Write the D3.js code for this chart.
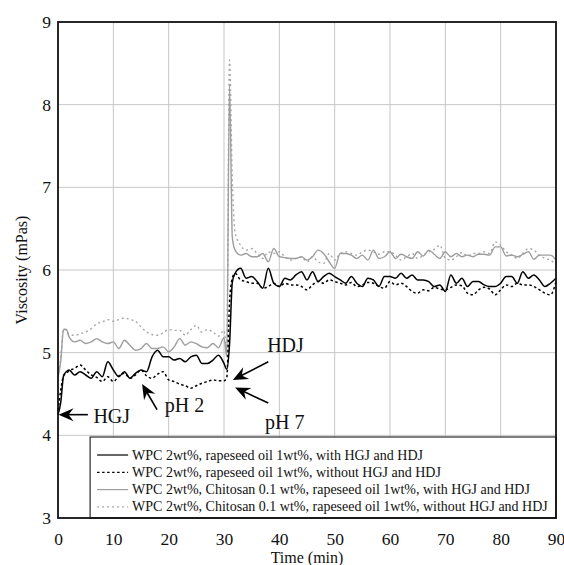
<!DOCTYPE html>
<html>
<head>
<meta charset="utf-8">
<script src="https://cdn.jsdelivr.net/npm/d3@7/dist/d3.min.js"></script>
<style>
  body { margin: 0; background: #fff; }
  svg text { font-family: "Liberation Serif", "Times New Roman", serif; fill: #111; }
</style>
</head>
<body>
<div id="chart"></div>
<script>
"use strict";

// time axis (min)
const times = [0, 0.5, 1, 1.5, 2, 3, 4, 5, 6, 7, 8, 9, 10, 11, 12, 13, 14, 15, 16, 17, 18, 19, 20,
  21, 22, 23, 24, 25, 26, 27, 28, 29, 30, 30.5, 31, 31.5, 32, 33, 34, 35, 36, 37, 38, 39, 40,
  41, 42, 43, 44, 45, 46, 47, 48, 49, 50, 51, 52, 53, 54, 55, 56, 57, 58, 59, 60,
  61, 62, 63, 64, 65, 66, 67, 68, 69, 70, 71, 72, 73, 74, 75, 76, 77, 78, 79, 80,
  81, 82, 83, 84, 85, 86, 87, 88, 89, 90];

// WPC, rapeseed oil, with HGJ and HDJ
const wpcWith = [4.25, 4.40, 4.72, 4.77, 4.79, 4.73, 4.77, 4.73, 4.69, 4.77, 4.71, 4.89, 4.79, 4.71, 4.77, 4.69, 4.75, 4.79, 4.77, 4.95, 5.03, 4.95, 4.95,
  4.91, 4.93, 4.89, 4.95, 4.97, 4.87, 4.87, 4.91, 4.97, 4.87, 4.80, 5.10, 5.85, 5.96, 6.02, 5.90, 5.92, 5.86, 5.78, 6.02, 5.84, 5.80,
  5.90, 5.88, 5.94, 5.98, 5.88, 5.98, 5.86, 5.92, 5.96, 5.92, 5.88, 5.84, 5.92, 5.84, 5.80, 5.90, 5.88, 5.80, 5.92, 5.92,
  5.90, 5.96, 5.90, 5.94, 5.88, 5.88, 5.86, 5.80, 5.82, 5.74, 5.94, 5.84, 5.90, 5.80, 5.86, 5.86, 5.82, 5.80, 5.80, 5.84,
  5.92, 5.92, 5.84, 5.98, 5.90, 5.94, 5.88, 5.80, 5.84, 5.90];

// WPC, rapeseed oil, without HGJ and HDJ
const wpcWithout = [4.30, 4.55, 4.72, 4.75, 4.78, 4.81, 4.85, 4.79, 4.73, 4.70, 4.65, 4.71, 4.65, 4.72, 4.75, 4.69, 4.73, 4.79, 4.72, 4.69, 4.74, 4.77, 4.67,
  4.65, 4.62, 4.60, 4.57, 4.60, 4.63, 4.65, 4.67, 4.66, 4.66, 4.70, 5.60, 5.90, 5.96, 5.88, 5.86, 5.84, 5.84, 5.78, 5.80, 5.84, 5.80,
  5.84, 5.82, 5.82, 5.80, 5.76, 5.82, 5.86, 5.84, 5.88, 5.86, 5.84, 5.82, 5.85, 5.80, 5.82, 5.85, 5.84, 5.80, 5.78, 5.86,
  5.82, 5.84, 5.80, 5.74, 5.72, 5.76, 5.75, 5.79, 5.77, 5.76, 5.79, 5.82, 5.81, 5.72, 5.70, 5.76, 5.79, 5.77, 5.70, 5.76,
  5.82, 5.80, 5.84, 5.82, 5.82, 5.80, 5.76, 5.72, 5.70, 5.86];

// WPC, Chitosan, rapeseed oil, with HGJ and HDJ
const chiWith = [4.70, 4.90, 5.28, 5.28, 5.19, 5.13, 5.15, 5.11, 5.13, 5.17, 5.13, 5.11, 5.13, 5.05, 5.15, 5.09, 5.03, 5.05, 5.11, 5.05, 5.05, 5.07, 5.01,
  5.07, 5.17, 5.09, 5.13, 5.11, 5.07, 5.06, 5.11, 5.06, 5.18, 4.95, 8.24, 6.40, 6.24, 6.18, 6.20, 6.16, 6.16, 6.20, 6.10, 6.26, 6.16,
  6.15, 6.14, 6.14, 6.16, 6.12, 6.16, 6.24, 6.20, 6.10, 6.02, 6.20, 6.20, 6.18, 6.14, 6.18, 6.12, 6.24, 6.14, 6.16, 6.22,
  6.14, 6.19, 6.16, 6.14, 6.22, 6.17, 6.24, 6.19, 6.14, 6.22, 6.16, 6.20, 6.16, 6.18, 6.16, 6.19, 6.19, 6.18, 6.28, 6.28,
  6.17, 6.18, 6.16, 6.19, 6.22, 6.13, 6.18, 6.18, 6.18, 6.12];

// WPC, Chitosan, rapeseed oil, without HGJ and HDJ
const chiWithout = [4.70, 4.95, 5.29, 5.27, 5.22, 5.21, 5.23, 5.25, 5.29, 5.35, 5.37, 5.40, 5.38, 5.40, 5.42, 5.40, 5.38, 5.31, 5.25, 5.22, 5.21, 5.24, 5.28,
  5.27, 5.27, 5.21, 5.28, 5.33, 5.25, 5.28, 5.25, 5.20, 5.27, 5.05, 8.54, 7.10, 6.45, 6.30, 6.24, 6.26, 6.20, 6.14, 6.22, 6.20, 6.22,
  6.16, 6.12, 6.14, 6.16, 6.10, 6.16, 6.10, 6.08, 6.20, 6.12, 6.20, 6.22, 6.20, 6.18, 6.22, 6.24, 6.22, 6.19, 6.22, 6.22,
  6.18, 6.12, 6.16, 6.20, 6.14, 6.18, 6.22, 6.25, 6.30, 6.14, 6.12, 6.16, 6.21, 6.17, 6.20, 6.20, 6.22, 6.20, 6.34, 6.30,
  6.22, 6.18, 6.14, 6.20, 6.26, 6.24, 6.18, 6.14, 6.12, 6.06];

const xTicks = [0, 10, 20, 30, 40, 50, 60, 70, 80, 90];
const yTicks = [3, 4, 5, 6, 7, 8, 9];

const legendLabels = [
  "WPC 2wt%, rapeseed oil 1wt%, with HGJ and HDJ",
  "WPC 2wt%, rapeseed oil 1wt%, without HGJ and HDJ",
  "WPC 2wt%, Chitosan 0.1 wt%, rapeseed oil 1wt%, with HGJ and HDJ",
  "WPC 2wt%, Chitosan 0.1 wt%, rapeseed oil 1wt%, without HGJ and HDJ"
];

// annotations: [label, tail t, tail v, tip t, tip v, text t, text v]
const notes = [
  ["HGJ", 5.4, 4.25, 0.1, 4.25, 6.4, 4.15],
  ["pH 2", 17.9, 4.31, 15.2, 4.62, 19.3, 4.28],
  ["HDJ", 38.0, 4.89, 31.6, 4.67, 37.8, 5.01],
  ["pH 7", 38.0, 4.39, 32.0, 4.58, 37.4, 4.08]
];

// ---------------------------------------------------------------------------

const width = 564, height = 565;
const plot = { left: 58, top: 22, right: 556, bottom: 518 };
const serif = "'Liberation Serif', 'Times New Roman', serif";

const svg = d3.select("#chart").append("svg")
  .attr("width", width)
  .attr("height", height)
  .attr("font-family", serif);

const x = d3.scaleLinear().domain([0, 90]).range([plot.left, plot.right]);
const y = d3.scaleLinear().domain([3, 9]).range([plot.bottom, plot.top]);

// grid
svg.append("g")
  .selectAll("line")
  .data(xTicks.slice(1, -1))
  .enter().append("line")
  .attr("x1", d => x(d)).attr("x2", d => x(d))
  .attr("y1", plot.top).attr("y2", plot.bottom)
  .attr("stroke", "#c6c6c6").attr("stroke-width", 1);

svg.append("g")
  .selectAll("line")
  .data(yTicks.slice(1, -1))
  .enter().append("line")
  .attr("x1", plot.left).attr("x2", plot.right)
  .attr("y1", d => y(d)).attr("y2", d => y(d))
  .attr("stroke", "#c6c6c6").attr("stroke-width", 1);

// axes (labels only)
const xAxis = svg.append("g")
  .attr("transform", `translate(0,${plot.bottom})`)
  .call(d3.axisBottom(x).tickValues(xTicks).tickFormat(d3.format("d")).tickSize(0).tickPadding(15));
const yAxis = svg.append("g")
  .attr("transform", `translate(${plot.left},0)`)
  .call(d3.axisLeft(y).tickValues(yTicks).tickFormat(d3.format("d")).tickSize(0).tickPadding(7));
[xAxis, yAxis].forEach(a => {
  a.attr("font-family", serif).attr("font-size", 17.5);
  a.select(".domain").remove();
  a.selectAll("text").attr("fill", "#111");
});

svg.append("text")
  .attr("x", x(45)).attr("y", 563)
  .attr("text-anchor", "middle")
  .attr("font-size", 16)
  .text("Time (min)");

svg.append("text")
  .attr("transform", `translate(27,${y(6)}) rotate(-90)`)
  .attr("text-anchor", "middle")
  .attr("font-size", 16)
  .text("Viscosity (mPas)");

// series
const series = [
  { values: wpcWith, color: "#000", dash: null, w: 1.5 },
  { values: wpcWithout, color: "#000", dash: "2.5,2.5", w: 1.5 },
  { values: chiWith, color: "#9e9e9e", dash: null, w: 1.4 },
  { values: chiWithout, color: "#a6a6a6", dash: "2,3", w: 1.4 }
];

const line = d3.line()
  .x(d => x(d[0]))
  .y(d => y(d[1]))
  .curve(d3.curveMonotoneX);

svg.append("g")
  .selectAll("path")
  .data(series.slice().reverse())
  .enter().append("path")
  .attr("d", s => line(times.map((t, i) => [t, s.values[i]])))
  .attr("fill", "none")
  .attr("stroke", s => s.color)
  .attr("stroke-width", s => s.w)
  .attr("stroke-dasharray", s => s.dash);

// legend
const lg = { left: x(5.8), top: 437 };
svg.append("rect")
  .attr("x", lg.left).attr("y", lg.top)
  .attr("width", plot.right - lg.left).attr("height", plot.bottom - lg.top)
  .attr("fill", "#fff").attr("stroke", "#000").attr("stroke-width", 1);

const items = svg.append("g")
  .selectAll("g")
  .data(series)
  .enter().append("g")
  .attr("transform", (s, i) => `translate(${lg.left + 7},${lg.top + 18 + i * 17.3})`);
items.append("line")
  .attr("x1", 0).attr("x2", 31)
  .attr("stroke", s => s.color)
  .attr("stroke-width", 1.2)
  .attr("stroke-dasharray", s => s.dash);
items.append("text")
  .attr("x", 35).attr("y", 4.5)
  .attr("font-size", 14)
  .text((s, i) => legendLabels[i]);

// annotations
const ann = svg.append("g");
notes.forEach(([label, t0, v0, t1, v1, tt, tv]) => {
  const x0 = x(t0), y0 = y(v0), x1 = x(t1), y1 = y(v1);
  const ang = Math.atan2(y1 - y0, x1 - x0) * 180 / Math.PI;
  const len = Math.hypot(x1 - x0, y1 - y0);
  const g = ann.append("g").attr("transform", `translate(${x0},${y0}) rotate(${ang})`);
  g.append("line")
    .attr("x1", 0).attr("x2", len - 8)
    .attr("stroke", "#000").attr("stroke-width", 1.6);
  g.append("path")
    .attr("d", `M${len},0 L${len - 15},-6.5 L${len - 10},0 L${len - 15},6.5 Z`)
    .attr("fill", "#000");
  ann.append("text")
    .attr("x", x(tt)).attr("y", y(tv))
    .attr("font-size", 20)
    .text(label);
});

// frame
svg.append("rect")
  .attr("x", plot.left).attr("y", plot.top)
  .attr("width", plot.right - plot.left).attr("height", plot.bottom - plot.top)
  .attr("fill", "none").attr("stroke", "#111").attr("stroke-width", 1.8);
</script>
</body>
</html>
